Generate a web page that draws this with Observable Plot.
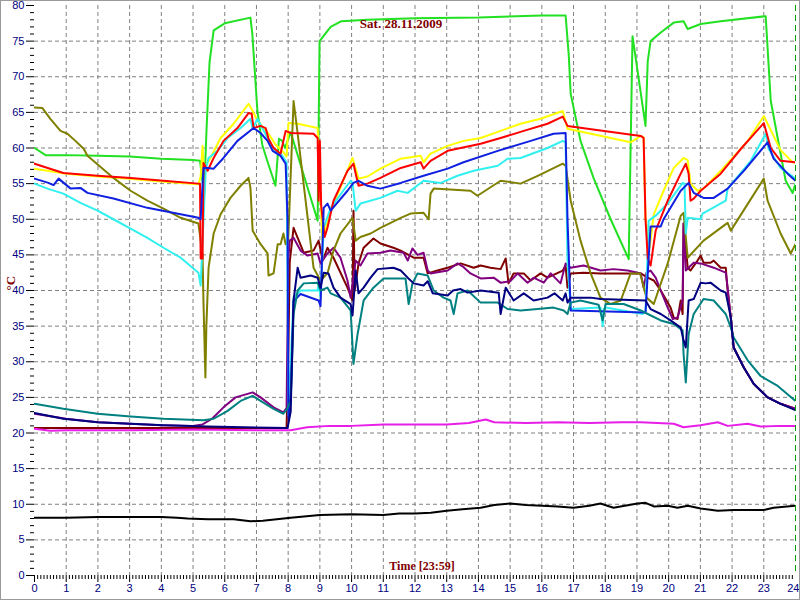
<!DOCTYPE html>
<html>
<head>
<meta charset="utf-8">
<script src="https://cdn.jsdelivr.net/npm/d3@7"></script>
<script src="https://cdn.jsdelivr.net/npm/@observablehq/plot@0.6"></script>
<style>
  body { margin: 0; background: #fff; }
  #wrap { position: relative; width: 800px; height: 600px; overflow: hidden; }
  #border { position: absolute; left: 0; top: 0; width: 798px; height: 598px; border: 1px solid #9a9a9a; pointer-events: none; }
</style>
</head>
<body>
<div id="wrap"><div id="border"></div></div>
<script>
// ---- texts ----
const titleText = "Sat. 28.11.2009";
const xLabel = "Time [23:59]";
const yLabel = "°C";
const xTicks = [0,1,2,3,4,5,6,7,8,9,10,11,12,13,14,15,16,17,18,19,20,21,22,23,24];
const yTicks = [0,5,10,15,20,25,30,35,40,45,50,55,60,65,70,75,80];
const nowHour = [24];

// ---- series: [hour, °C] ----
const green = [[0,60],[0.35,59],[1,59],[2,58.9],[3,58.8],[4,58.5],[5,58.3],[5.22,58.2],[5.35,53.5],[5.42,62],[5.52,72],[5.65,76.5],[6.0,77.5],[6.81,78.3],[6.87,76],[7.03,65.2],[7.18,60.5],[7.34,58.2],[7.6,54.7],[7.71,61.3],[7.81,61],[7.9,60],[8.08,62.2],[8.93,49.8],[8.99,75],[9.34,77],[9.68,77.8],[10.5,78],[12,78.2],[14,78.3],[16,78.6],[16.75,78.6],[16.85,73],[16.91,67.6],[17.22,61],[17.63,55.8],[18.17,50],[18.74,44.4],[18.86,75.7],[19.27,63.1],[19.34,72.2],[19.43,75],[19.75,76.2],[20.16,77.6],[20.47,77.8],[20.6,76.7],[21.01,77.4],[21.64,77.8],[23.06,78.5],[23.22,66.6],[23.69,55.4],[23.91,53.7],[24,55]];
const yellow = [[0,57.1],[1,56.4],[2,56],[3,55.7],[4,55.3],[5.17,54.9],[5.24,56],[5.3,60.3],[5.33,57.2],[5.4,57.5],[5.55,58.6],[5.87,61.4],[6.28,63.4],[6.75,66.2],[6.88,65.2],[7.03,63.8],[7.35,62.2],[7.6,60.5],[7.85,59.4],[7.95,58.8],[8.01,63.5],[8.3,63.4],[8.93,62.8],[9.0,55],[9.08,47],[9.34,51.2],[9.7,55],[10.03,58.6],[10.22,55.7],[10.5,56],[10.91,57.1],[11.55,58.5],[12.18,58.9],[12.27,58],[12.49,59.2],[13.03,60.3],[13.53,61],[14.07,61.4],[14.7,62.4],[15.33,63.4],[15.96,64.1],[16.66,65.2],[16.81,62.7],[18.8,60.8],[19.12,61.7],[19.21,61.5],[19.27,50],[19.4,46],[19.53,50.7],[19.84,54],[20.16,57.2],[20.47,58.6],[20.6,58.3],[20.69,55],[20.91,54],[21.1,54.3],[21.64,56.8],[22.5,61],[23.0,64.5],[23.12,63.4],[23.53,59.7],[23.91,58],[24,57.9]];
const red = [[0,57.8],[0.91,56.5],[1.99,56.1],[3.03,55.8],[4.07,55.4],[5.17,55],[5.22,55],[5.24,44.5],[5.3,44.5],[5.33,57.9],[5.46,56.8],[5.65,58.6],[5.96,61],[6.4,62.8],[6.75,64.9],[6.85,64.8],[6.91,62.8],[7.13,63.1],[7.29,62.8],[7.38,61.3],[7.54,60],[7.76,59.2],[7.92,62.4],[8.08,62.1],[8.8,62],[8.93,61.4],[8.96,52.6],[9.0,61],[9.04,52],[9.15,47.5],[9.24,48.8],[9.43,52.6],[9.87,56.8],[10.06,57.8],[10.15,56],[10.22,54.7],[10.5,55],[10.91,55.8],[11.55,57.2],[12.18,58],[12.27,57.1],[12.49,58.2],[13.03,59.6],[14.07,60.6],[14.7,61.4],[15.43,62.4],[16.18,63.4],[16.66,64.4],[16.81,63.1],[19.12,61.7],[19.21,61.4],[19.27,50],[19.34,44.6],[19.43,43.5],[19.59,48.4],[19.97,52.6],[20.38,56.4],[20.54,57.8],[20.63,56.4],[20.69,52.6],[20.79,52.9],[21.01,54],[21.64,56.4],[22.3,60],[23.0,63.5],[23.22,60],[23.53,58.2],[24,58]];
const cyan = [[0,55],[0.41,54.3],[0.91,53.6],[1.45,52.3],[1.99,51.2],[2.49,50],[3.03,48.7],[3.56,47.4],[4.07,46],[4.61,44.6],[5.17,42.5],[5.24,40.7],[5.3,47],[5.4,57],[5.49,58.6],[5.77,59.6],[6.09,61.4],[6.5,62.8],[6.81,64.1],[6.88,62.7],[7.03,64.1],[7.35,61.4],[7.54,59.6],[7.76,59.2],[7.95,58],[8.01,22.5],[8.08,30],[8.17,39],[8.39,40],[8.93,40],[8.96,41],[9.02,39],[9.12,48.8],[9.34,51.6],[9.97,55.4],[10.03,55.1],[10.13,51.2],[10.28,52.2],[10.91,53],[11.45,54],[11.77,53.7],[12.27,55.4],[12.81,55.1],[13.34,56.1],[13.85,56.8],[14.61,57.5],[14.92,58.5],[15.33,58.6],[16.18,60],[16.66,61],[16.75,60.8],[16.81,44],[16.91,37.4],[17.85,37.6],[17.92,35],[17.95,37.4],[18.01,37.6],[19.18,36.7],[19.27,37],[19.37,49.8],[19.59,50.5],[19.97,52.2],[20.44,55.1],[20.5,55],[20.54,48],[20.6,50.2],[21.01,50],[21.07,50.8],[21.8,52.6],[21.86,54.3],[22.59,58.2],[23.06,62],[23.15,59.9],[23.53,57.2],[24,55.7]];
const blue = [[0,55.7],[0.44,55.1],[0.6,54.8],[0.76,55.7],[1.14,54.3],[1.45,54.4],[1.67,53.7],[2.49,52.9],[3.56,51.6],[4.61,50.7],[5.17,50.2],[5.24,50],[5.33,57.2],[5.46,57.2],[5.65,57.1],[5.96,58.6],[6.4,61],[6.91,62.8],[7.13,62.1],[7.35,61],[7.51,59.6],[7.76,58.9],[7.92,57.8],[7.98,50],[8.01,22],[8.08,25],[8.17,38.5],[8.39,39.5],[8.96,38.6],[9.02,37.8],[9.12,51.6],[9.24,52.2],[9.34,51.2],[9.87,54],[10.06,55.1],[10.22,55.4],[10.5,54.7],[10.91,54.3],[11.55,55.1],[12.27,56.1],[13.03,57.1],[13.53,58],[14.61,59.6],[15.65,61],[16.37,62],[16.75,62.1],[16.81,50],[16.91,37.2],[19.27,36.9],[19.37,44.6],[19.43,49],[19.75,49],[19.84,50],[20.38,54],[20.63,55.1],[20.79,53.7],[21.1,53],[21.42,53],[21.86,54.3],[22.37,56.8],[23.12,60.8],[23.31,58.5],[23.75,56.4],[24,55.4]];
const olive = [[0,65.7],[0.25,65.6],[0.5,64.1],[0.82,62.4],[1.04,62],[1.29,61],[1.55,59.9],[1.67,58.9],[2.49,55.8],[3.03,54],[3.56,52.6],[4.07,51.5],[4.61,50.2],[5.17,49.4],[5.3,45],[5.33,38.1],[5.39,27.8],[5.42,35],[5.49,43.2],[5.65,48],[5.87,50.7],[6.18,53],[6.5,54.7],[6.75,55.8],[6.81,54.4],[6.88,48.4],[7.13,46.5],[7.35,45.2],[7.38,42.1],[7.54,42.4],[7.67,46.5],[7.76,46.5],[7.85,48],[7.92,46.5],[8.0,47],[8.17,66.6],[8.3,62],[8.55,52.6],[8.8,43.2],[9.02,41.4],[9.24,42.4],[9.43,45.6],[9.65,48],[10.03,50.2],[10.13,47],[10.28,47.5],[10.6,48],[10.91,48.8],[11.55,50.2],[11.86,50.8],[12.27,50.9],[12.43,50],[12.49,53.6],[12.59,54.3],[13.75,54],[13.97,53.3],[14.7,55.4],[15.33,55],[15.87,56.1],[16.66,57.8],[16.75,57.5],[16.91,52.6],[17.22,47],[17.54,42.4],[17.85,39],[18.17,38.1],[18.49,38.6],[18.8,42.4],[19.1,42.4],[19.3,39],[19.53,38.1],[19.97,43.8],[20.38,50.5],[20.47,50.9],[20.6,44.6],[21.1,47],[21.74,49.1],[21.86,49.5],[21.96,48.4],[23.0,55.7],[23.12,52.6],[23.53,48],[23.85,45.2],[24,46.5]];
const maroon = [[0,20.7],[7.95,20.7],[8.0,30],[8.05,44],[8.17,48.8],[8.3,47.4],[8.49,45.3],[8.8,45.6],[8.96,47],[9.09,44.2],[9.24,46],[9.43,44.6],[9.87,40.4],[10.03,38.6],[10.06,51.2],[10.1,40],[10.22,43.8],[10.38,46],[10.69,47.3],[10.91,46.6],[11.32,46],[11.55,45.6],[11.96,44.6],[12.27,44.6],[12.4,42.4],[12.71,42.8],[13.03,43.2],[13.44,43.8],[13.85,43.2],[14.07,43.5],[14.38,43.2],[14.7,43],[14.86,44.5],[14.95,41],[15.11,42.4],[15.43,42.4],[15.65,41.4],[15.96,42.4],[16.18,41.8],[16.66,42.8],[16.75,43.5],[16.81,40.4],[16.91,42.4],[17.32,42.5],[17.85,42.4],[18.58,42.4],[19.12,42.4],[19.34,41.8],[19.53,41.4],[19.75,40],[20.06,37.6],[20.16,36.2],[20.28,36],[20.38,38.6],[20.44,36.7],[20.47,49.4],[20.6,43.2],[20.69,42.8],[20.91,44.2],[21.01,44.9],[21.1,43.9],[21.32,43.9],[21.42,44.2],[21.64,43.2],[21.8,43.2],[21.86,40],[21.96,36.2],[22.05,32],[22.37,29.2],[22.68,26.9],[23.12,25],[23.53,24.1],[24,23.4]];
const purple = [[0,22.7],[1,22],[2,21.5],[3,21.3],[4,21.1],[5,21],[5.3,21.2],[5.6,22],[5.96,23.6],[6.34,25],[6.88,25.7],[7.13,25],[7.54,23.6],[7.85,22.9],[7.95,23.5],[7.98,35],[8.0,44.2],[8.05,47],[8.17,47.4],[8.39,45.6],[8.61,44.9],[8.93,45.2],[9.02,43.8],[9.24,45.2],[9.43,46],[9.65,44.6],[9.87,41.4],[9.97,39],[10.13,44.2],[10.28,43.5],[10.5,45.2],[10.91,45.3],[11.23,45.6],[11.64,45.3],[11.77,44.2],[11.92,45.9],[12.08,45],[12.27,45.3],[12.4,42.8],[12.49,42.4],[13.03,42.8],[13.34,43.8],[13.5,43.4],[13.75,42.4],[14.07,41.7],[14.48,41.8],[14.7,41.1],[15.0,41.3],[15.24,42.4],[15.55,41.1],[15.74,41.8],[16.06,41.1],[16.28,42.4],[16.59,41],[16.75,43.8],[16.91,43.2],[17.32,43.5],[17.85,42.8],[18.26,43],[18.71,42.8],[19.12,42.4],[19.21,40.4],[19.3,42.5],[19.43,42.8],[19.59,41.8],[19.75,40],[19.97,37.6],[20.13,36],[20.28,36.2],[20.44,38.6],[20.47,49.4],[20.54,42.8],[20.79,43.9],[21.01,43.8],[21.42,43.2],[21.8,42.5],[21.86,40.4],[21.96,36],[22.05,32],[22.37,29.2],[22.68,26.9],[23.12,25],[23.53,24.1],[24,23.4]];
const teal = [[0,24.1],[0.91,23.4],[1.99,22.7],[3.03,22.3],[4.07,22],[5.33,21.8],[5.65,22],[6.09,23.1],[6.5,24.5],[6.88,25.2],[7.13,24.5],[7.54,23.4],[7.85,22.7],[7.98,23.5],[8.08,24.5],[8.17,36.7],[8.3,40],[8.49,41],[8.93,41.1],[9.02,40],[9.24,40.4],[9.34,39.6],[9.65,39],[9.97,37.2],[10.06,29.7],[10.19,33.9],[10.38,38.6],[10.69,40.4],[11.01,41.7],[11.7,41.7],[11.8,38.1],[11.92,41],[12.08,42.4],[12.4,42.1],[12.59,40],[12.9,39],[13.12,38.6],[13.22,36.7],[13.34,39.6],[13.66,40],[14.07,38.3],[14.61,38.3],[14.92,37.4],[15.33,37.2],[15.87,37.4],[16.37,37.6],[16.69,37.2],[16.81,36.7],[16.91,38.3],[17.22,38.6],[17.79,38],[17.92,35.8],[18.01,38.1],[18.58,38.1],[19.12,37.2],[19.34,36.7],[19.75,35.8],[20.16,35.3],[20.44,34.4],[20.47,31.1],[20.54,27.1],[20.63,33.9],[20.79,36.7],[21.1,38.8],[21.42,38.6],[21.8,36.7],[21.96,34.8],[22.05,33.4],[22.49,30.2],[22.9,28],[23.44,26.6],[24,24.5]];
const navy = [[0,22.8],[0.91,22],[1.99,21.5],[3.03,21.3],[4.07,21.1],[5.46,20.9],[7.98,20.7],[8.08,23],[8.17,38.6],[8.3,43.2],[8.39,41.8],[8.71,42.1],[8.93,41.8],[9.02,40.4],[9.12,42.5],[9.27,42.4],[9.43,40.4],[9.65,39],[9.97,38.1],[10.03,36.5],[10.13,42.8],[10.22,39.6],[10.38,40.4],[10.6,41.8],[10.82,43],[11.32,43.2],[11.55,42.8],[11.77,41.8],[11.96,41],[12.27,40.7],[12.4,41.3],[12.56,39.6],[13.03,39.3],[13.2,40],[13.44,40.2],[13.66,39.7],[14.07,40],[14.64,39.7],[14.7,36.7],[14.86,40.4],[15.11,38.6],[15.43,39.6],[15.74,38.6],[16.18,39],[16.4,39.6],[16.66,38.6],[16.75,39.6],[16.81,38.3],[16.91,39],[17.54,39],[17.85,38.8],[19.27,38.6],[19.43,37.4],[19.75,36.7],[20.06,35.8],[20.38,34.8],[20.47,33],[20.54,32],[20.63,38.6],[20.79,38.8],[21.01,41.1],[21.17,41],[21.32,41.1],[21.64,40],[21.8,39.7],[21.96,36.2],[22.05,32],[22.37,29.2],[22.68,26.9],[23.12,25],[23.53,24.1],[24,23.2]];
const magenta = [[0,20.6],[0.5,20.3],[1,20.4],[3,20.4],[5,20.5],[7,20.4],[8.08,20.4],[8.6,20.8],[9.3,21],[10,21],[11,21.2],[12,21.2],[13,21.2],[13.7,21.4],[14.23,21.9],[14.5,21.5],[15.5,21.4],[16.5,21.5],[17.5,21.4],[18.5,21.5],[19.12,21.5],[20.16,21.3],[20.47,20.8],[21.0,21.1],[21.55,21.5],[21.86,21],[22.49,21.3],[22.9,20.9],[23.5,21],[24,21]];
const black = [[0,8.1],[1,8.1],[2,8.2],[3,8.2],[4,8.2],[4.5,8.1],[4.83,8],[5.46,7.9],[6.28,7.9],[6.81,7.6],[7.2,7.7],[8.08,8.1],[9,8.5],[10,8.6],[11,8.5],[11.5,8.7],[12,8.7],[12.5,8.8],[13,9.1],[13.5,9.3],[14.07,9.5],[14.5,9.9],[15,10.1],[15.5,9.9],[16,9.8],[16.5,9.7],[17,9.5],[17.5,9.8],[17.85,10.1],[18.26,9.5],[19.02,10.1],[19.27,10.2],[19.53,9.7],[19.97,9.8],[20.28,9.5],[20.6,9.8],[21.01,9.4],[21.55,9.1],[22.05,9.2],[23.0,9.2],[23.31,9.5],[24,9.8]];

const seriesList = [
  {data: maroon, color: "#800000"},
  {data: purple, color: "#800080"},
  {data: green, color: "#22e022"},
  {data: yellow, color: "#ffff00"},
  {data: olive, color: "#808000"},
  {data: cyan, color: "#30f0f0"},
  {data: red, color: "#ff0000"},
  {data: blue, color: "#1020e0"},
  {data: teal, color: "#008080"},
  {data: navy, color: "#000080"},
  {data: magenta, color: "#e81ee8"},
  {data: black, color: "#000000"}
];

const minorY = d3.range(0, 81, 1).filter(v => v % 5 !== 0);
const minorX = d3.range(0, 241, 1).filter(v => v % 10 !== 0).map(v => v / 10);
const font = "Liberation Sans, Arial, sans-serif";
const serif = "Liberation Serif, Times New Roman, serif";

const chart = Plot.plot({
  width: 800,
  height: 600,
  marginLeft: 34,
  marginRight: 5,
  marginTop: 5,
  marginBottom: 25,
  style: {fontFamily: font, fontSize: "11px", background: "transparent"},
  x: {domain: [0, 24]},
  y: {domain: [0, 80]},
  marks: [
    Plot.gridY(yTicks.filter(v => v > 0 && v < 80), {stroke: "#808080", strokeOpacity: 1, strokeDasharray: "4,3"}),
    Plot.gridX(xTicks.filter(v => v > 0 && v < 24), {stroke: "#808080", strokeOpacity: 1, strokeDasharray: "4,3"}),
    Plot.ruleX(nowHour, {stroke: "#00a000", strokeDasharray: "6,4", strokeWidth: 1}),
    ...seriesList.map(s => Plot.line(s.data, {x: d => d[0], y: d => d[1], stroke: s.color, strokeWidth: 2, curve: "linear", clip: true})),
    Plot.axisY(yTicks, {tickSize: 8, tickPadding: 2, stroke: "#000", fill: "#000080", label: null, fontSize: 11}),
    Plot.axisY(minorY, {tickSize: 4, tickFormat: () => "", stroke: "#000", label: null}),
    Plot.axisX(xTicks.filter(v => v < 24), {tickSize: 7, tickPadding: 2, stroke: "#000", fill: "#000080", label: null, fontSize: 11}),
    Plot.axisX(nowHour, {tickSize: 7, tickPadding: 2, stroke: "#000", fill: "#000080", label: null, fontSize: 11, textAnchor: "end", dx: 4}),
    Plot.axisX(minorX, {tickSize: 4, tickFormat: () => "", stroke: "#000", label: null}),
    Plot.text([titleText], {frameAnchor: "top", dx: -14, dy: 13, fill: "#800000", fontWeight: "bold", fontSize: 13, fontFamily: serif}),
    Plot.text([xLabel], {frameAnchor: "bottom", dx: 7, dy: -6, fill: "#800000", fontWeight: "bold", fontSize: 12, fontFamily: serif}),
    Plot.text([yLabel], {frameAnchor: "left", dx: -24, rotate: -90, fill: "#800000", fontWeight: "bold", fontSize: 13, fontFamily: serif})
  ]
});
document.getElementById("wrap").prepend(chart);
</script>
</body>
</html>
